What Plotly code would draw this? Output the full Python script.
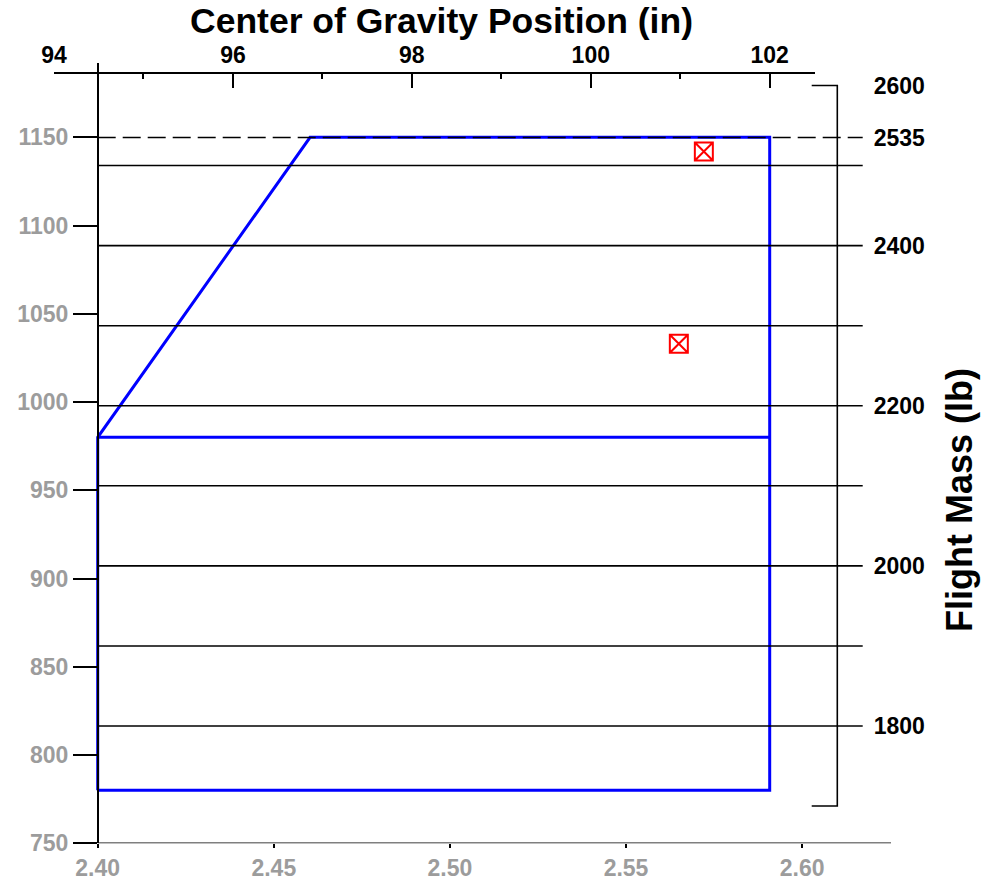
import plotly.graph_objects as go

# ---------------- data ----------------
KG_PER_LB = 0.45359237
M_PER_IN = 0.0254

# CG envelope (m, kg)
env_x = [2.40, 2.40, 2.4603, 2.5908, 2.5908, 2.40, None, 2.40, 2.5908]
env_y = [780, 980, 1150, 1150, 780, 780, None, 980, 980]

# loading points (m, kg)
pt_x = [2.5721, 2.5650]
pt_y = [1142, 1033]

# flight-mass reference lines (lb)
lb_lines = [1800, 1900, 2000, 2100, 2200, 2300, 2400, 2500]
lb_max_line = 2535
lb_ticks = [1800, 2000, 2200, 2400, 2535, 2600]
lb_bracket = [1700, 2600]

x_ticks = [2.40, 2.45, 2.50, 2.55, 2.60]
y_ticks = [750, 800, 850, 900, 950, 1000, 1050, 1100, 1150]
in_ticks = [94, 96, 98, 100, 102]
in_minor = [95, 97, 99, 101]

# ---------------- layout geometry (pixels) ----------------
W, H = 995, 884
PX_PER_M = 3522.0
X0_PX = 97.7          # pixel of 2.40 m
PX_PER_KG = 1.765
Y0_PX = 843.3         # pixel of 750 kg


def m_at(px):
    return 2.40 + (px - X0_PX) / PX_PER_M


def kg_at(py):
    return 750 + (Y0_PX - py) / PX_PER_KG


x_dom_px = (73, 891)
y_dom_px = (62.7, 843.3)
top_dom_px = (54, 815)

x_range = [m_at(x_dom_px[0]), m_at(x_dom_px[1])]
y_range = [kg_at(y_dom_px[1]), kg_at(y_dom_px[0])]
lb_range = [v / KG_PER_LB for v in y_range]
in_range = [m_at(top_dom_px[0]) / M_PER_IN, m_at(top_dom_px[1]) / M_PER_IN]

line_end_m = m_at(862.7)      # right end of reference lines
raxis_m = m_at(837.3)         # right bracket vertical
rbrk_m = m_at(811.7)          # right bracket inner end

FONT = "Liberation Sans, Arial, sans-serif"
GRAY = "#9c9c9c"
LW = 1.6

fig = go.Figure()

# reference lines in lb
for v in lb_lines:
    fig.add_trace(go.Scatter(x=[2.40, line_end_m], y=[v, v], mode="lines",
                             line=dict(color="black", width=LW),
                             xaxis="x", yaxis="y2", hoverinfo="skip", showlegend=False))
fig.add_trace(go.Scatter(x=[2.40, line_end_m], y=[lb_max_line, lb_max_line], mode="lines",
                         line=dict(color="black", width=LW, dash="18px,7px"),
                         xaxis="x", yaxis="y2", hoverinfo="skip", showlegend=False))
# right bracket axis
fig.add_trace(go.Scatter(x=[rbrk_m, raxis_m, raxis_m, rbrk_m],
                         y=[lb_bracket[1], lb_bracket[1], lb_bracket[0], lb_bracket[0]],
                         mode="lines", line=dict(color="black", width=LW),
                         xaxis="x", yaxis="y2", hoverinfo="skip", showlegend=False))
# bottom axis line from 2.40
fig.add_trace(go.Scatter(x=[2.40, x_range[1]], y=[750, 750], mode="lines",
                         line=dict(color="black", width=LW),
                         xaxis="x", yaxis="y", hoverinfo="skip", showlegend=False))

# envelope
fig.add_trace(go.Scatter(x=env_x, y=env_y, mode="lines",
                         line=dict(color="#0000FF", width=3),
                         xaxis="x", yaxis="y", showlegend=False))
# points
fig.add_trace(go.Scatter(x=pt_x, y=pt_y, mode="markers",
                         marker=dict(symbol="square-x-open", size=18, color="#FF0000",
                                     line=dict(width=2, color="#FF0000")),
                         xaxis="x", yaxis="y", showlegend=False))
# anchor trace for the inch axis (invisible)
fig.add_trace(go.Scatter(x=[in_ticks[0]], y=[y_range[0]], mode="markers",
                         marker=dict(opacity=0), xaxis="x2", yaxis="y",
                         hoverinfo="skip", showlegend=False))

tickfont_gray = dict(family=FONT, size=23, color=GRAY, weight=700)
tickfont_black = dict(family=FONT, size=23, color="black", weight=700)

fig.update_layout(
    width=W, height=H,
    margin=dict(l=0, r=0, t=0, b=0, pad=0, autoexpand=False),
    paper_bgcolor="white", plot_bgcolor="rgba(0,0,0,0)",
    xaxis=dict(domain=[x_dom_px[0] / W, x_dom_px[1] / W], range=x_range,
               anchor="free", position=1 - Y0_PX / H, automargin=False,
               showline=False, showgrid=False, zeroline=False,
               ticks="outside", ticklen=4, tickwidth=LW, tickcolor="black",
               tickvals=x_ticks, tickformat=".2f", tickfont=tickfont_gray),
    yaxis=dict(domain=[1 - y_dom_px[1] / H, 1 - y_dom_px[0] / H], range=y_range,
               anchor="free", position=X0_PX / W, automargin=False,
               showline=True, linecolor="black", linewidth=LW,
               showgrid=False, zeroline=False,
               ticks="outside", ticklen=24, tickwidth=LW, tickcolor="black",
               tickvals=y_ticks, tickfont=tickfont_gray),
    xaxis2=dict(domain=[top_dom_px[0] / W, top_dom_px[1] / W], range=in_range,
                anchor="free", position=1 - 73.3 / H, side="top", automargin=False,
                showline=True, linecolor="black", linewidth=LW,
                showgrid=False, zeroline=False,
                ticks="inside", ticklen=14, tickwidth=LW, tickcolor="black",
                tickvals=in_ticks, tickfont=tickfont_black,
                minor=dict(ticks="inside", ticklen=5, tickwidth=LW, tickcolor="black",
                           tickvals=in_minor, showgrid=False)),
    yaxis2=dict(overlaying="y", side="right", range=lb_range,
                anchor="free", position=862.7 / W, automargin=False,
                showline=False, showgrid=False, zeroline=False,
                ticks="", tickvals=lb_ticks, tickfont=tickfont_black,
                ticklabelstandoff=10),
    annotations=[
        dict(text="Center of Gravity Position (in)", xref="paper", yref="paper",
             x=441.5 / W, y=1 - 21 / H, showarrow=False, xanchor="center", yanchor="middle",
             font=dict(family=FONT, size=35.5, color="black", weight=700)),
        dict(text="Flight Mass (lb)", xref="paper", yref="paper",
             x=959 / W, y=1 - 500 / H, showarrow=False, textangle=-90,
             xanchor="center", yanchor="middle",
             font=dict(family=FONT, size=36, color="black", weight=700)),
    ],
)

fig.write_html("out.html")
